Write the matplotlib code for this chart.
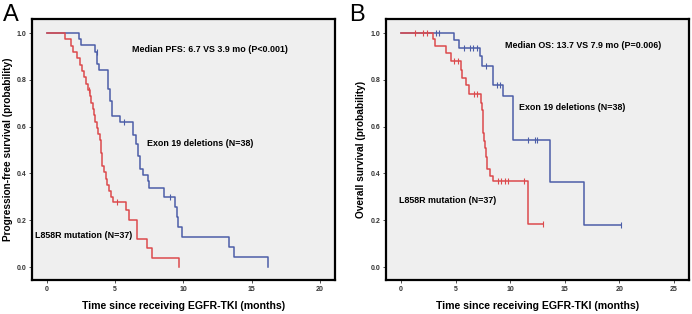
import matplotlib
matplotlib.use("Agg")
import matplotlib.pyplot as plt

plt.rcParams['font.family'] = ['Liberation Sans', 'DejaVu Sans']

# ---------------- data ----------------
# Panel A: progression-free survival
pfs_exon_t = [0, 2.35, 2.5, 3.5, 3.65, 3.8, 4.5, 4.6, 4.75, 5.35, 6.3, 6.5, 6.7, 6.8, 7.05, 7.4, 7.5, 8.6, 9.4, 9.5, 9.6, 9.9, 13.3, 13.7, 16.2]
pfs_exon_s = [1.0, 0.974, 0.947, 0.92, 0.868, 0.842, 0.763, 0.71, 0.645, 0.618, 0.566, 0.526, 0.474, 0.42, 0.395, 0.368, 0.34, 0.30, 0.255, 0.213, 0.17, 0.128, 0.085, 0.043, 0.0]
pfs_exon_cens_t = [3.65, 5.65, 9.0]
pfs_exon_cens_s = [0.92, 0.618, 0.30]

pfs_l858_t = [0, 1.35, 1.75, 1.9, 2.2, 2.4, 2.55, 2.7, 2.85, 3.0, 3.15, 3.25, 3.35, 3.45, 3.55, 3.65, 3.75, 3.85, 3.92, 3.97, 4.0, 4.05, 4.15, 4.3, 4.4, 4.55, 4.7, 4.85, 5.8, 6.0, 6.6, 7.3, 7.7, 9.7]
pfs_l858_s = [1.0, 0.973, 0.946, 0.919, 0.892, 0.865, 0.838, 0.811, 0.784, 0.757, 0.73, 0.703, 0.676, 0.649, 0.622, 0.595, 0.568, 0.541, 0.514, 0.487, 0.46, 0.432, 0.405, 0.378, 0.351, 0.324, 0.30, 0.28, 0.243, 0.20, 0.12, 0.08, 0.04, 0.0]
pfs_l858_cens_t = [3.1, 5.1]
pfs_l858_cens_s = [0.757, 0.28]

# Panel B: overall survival
os_exon_t = [0, 4.85, 5.3, 7.2, 7.4, 8.4, 9.35, 10.3, 13.7, 16.8, 20.2]
os_exon_s = [1.0, 0.97, 0.936, 0.9, 0.86, 0.78, 0.73, 0.545, 0.363, 0.182, 0.182]
os_exon_cens_t = [3.2, 3.5, 5.8, 6.3, 6.6, 7.0, 7.8, 8.8, 9.1, 11.6, 12.3, 12.5, 20.2]
os_exon_cens_s = [1.0, 1.0, 0.936, 0.936, 0.936, 0.936, 0.86, 0.78, 0.78, 0.545, 0.545, 0.545, 0.182]

os_l858_t = [0, 2.9, 3.1, 4.1, 4.6, 5.5, 5.6, 5.95, 6.2, 7.3, 7.4, 7.5, 7.55, 7.65, 7.7, 7.8, 7.9, 8.15, 8.4, 11.6, 13.0]
os_l858_s = [1.0, 0.973, 0.946, 0.915, 0.88, 0.84, 0.81, 0.78, 0.74, 0.70, 0.67, 0.62, 0.575, 0.54, 0.51, 0.47, 0.42, 0.39, 0.37, 0.185, 0.185]
os_l858_cens_t = [1.3, 2.0, 2.35, 4.9, 5.2, 6.7, 7.0, 8.9, 9.2, 9.5, 9.8, 11.3, 13.0]
os_l858_cens_s = [1.0, 1.0, 1.0, 0.88, 0.88, 0.74, 0.74, 0.37, 0.37, 0.37, 0.37, 0.37, 0.185]

yticks = [0.0, 0.2, 0.4, 0.6, 0.8, 1.0]
yticklabels = ["0.0", "0.2", "0.4", "0.6", "0.8", "1.0"]
xticks_a = [0, 5, 10, 15, 20]
xticks_b = [0, 5, 10, 15, 20, 25]

RED = "#dc4a4c"
BLUE = "#4c5ea8"

fig = plt.figure(figsize=(6.92, 3.14), dpi=100)
axA = fig.add_axes([32/692, 1-280/314, 303/692, 261/314])
axB = fig.add_axes([386/692, 1-280/314, 303/692, 261/314])


def style(ax, xticks, xlim, ylabel, ypad):
    ax.set_facecolor("#efefef")
    for s in ax.spines.values():
        s.set_linewidth(1.6)
        s.set_color("black")
    ax.set_xlim(*xlim)
    ax.set_ylim(-0.055, 1.06)
    ax.set_xticks(xticks)
    ax.set_xticklabels([str(t) for t in xticks], fontsize=5, fontweight='bold', color='#333333')
    ax.set_yticks(yticks)
    ax.set_yticklabels(yticklabels, fontsize=5, fontweight='bold', color='#333333')
    ax.tick_params(axis='both', direction='out', length=2, width=0.6, pad=2, colors='#333333')
    ax.set_xlabel("Time since receiving EGFR-TKI (months)", fontsize=7.6, fontweight='bold', labelpad=6)
    ax.set_ylabel(ylabel, fontsize=7.3, fontweight='bold', labelpad=ypad)


def curve(ax, t, s, ct, cs, color):
    ax.step(t, s, where='post', color=color, lw=1.1)
    ax.plot(ct, cs, linestyle='none', marker='|', markersize=4, mew=0.8, color=color)


ANN = 6.4
style(axA, xticks_a, (-1.1, 21.1), "Progression-free survival (probability)", 2.5)
curve(axA, pfs_exon_t, pfs_exon_s, pfs_exon_cens_t, pfs_exon_cens_s, BLUE)
curve(axA, pfs_l858_t, pfs_l858_s, pfs_l858_cens_t, pfs_l858_cens_s, RED)
axA.text(6.2, 0.93, "Median PFS: 6.7 VS 3.9 mo (P<0.001)", fontsize=ANN, fontweight='bold', va='center')
axA.text(7.3, 0.53, "Exon 19 deletions (N=38)", fontsize=ANN, fontweight='bold', va='center')
axA.text(-0.9, 0.136, "L858R mutation (N=37)", fontsize=ANN, fontweight='bold', va='center')

style(axB, xticks_b, (-1.37, 26.4), "Overall survival (probability)", 3.5)
curve(axB, os_exon_t, os_exon_s, os_exon_cens_t, os_exon_cens_s, BLUE)
curve(axB, os_l858_t, os_l858_s, os_l858_cens_t, os_l858_cens_s, RED)
axB.text(9.5, 0.945, "Median OS: 13.7 VS 7.9 mo (P=0.006)", fontsize=ANN, fontweight='bold', va='center')
axB.text(10.8, 0.68, "Exon 19 deletions (N=38)", fontsize=ANN, fontweight='bold', va='center')
axB.text(-0.2, 0.285, "L858R mutation (N=37)", fontsize=ANN, fontweight='bold', va='center')

fig.text(3/692, 1-4/314, "A", fontsize=17, va='top', ha='left')
fig.text(349/692, 1-4/314, "B", fontsize=17, va='top', ha='left')

fig.savefig("out.png", dpi=100)
